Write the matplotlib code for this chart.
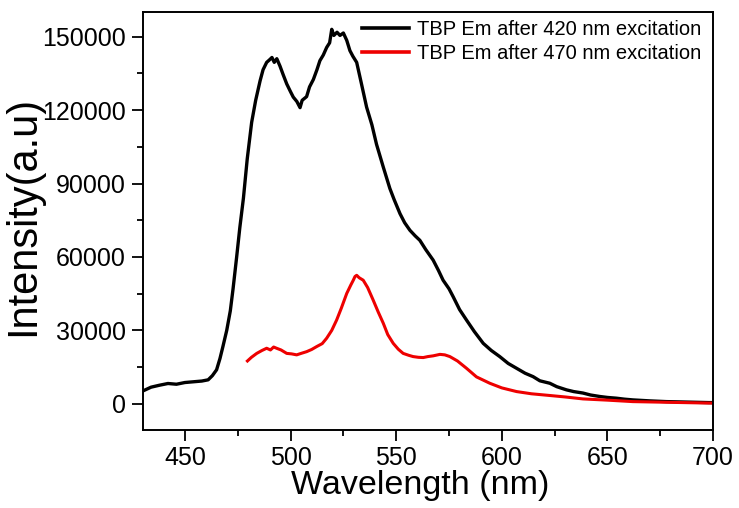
import matplotlib
matplotlib.use("Agg")
import matplotlib.pyplot as plt
from matplotlib.ticker import MultipleLocator

# Black: TBP Em after 420 nm excitation
wl_420 = [430, 434, 438, 442, 446, 450, 454, 458, 461, 463, 465, 466.6, 468, 469.8, 471.5, 472.8,
          474.5, 476, 477.7, 479.5, 481.6, 483.5, 485.6, 487, 488.7, 490, 491.2, 492.3, 493.5,
          495, 496.5, 498.2, 500, 501.3, 503, 504.5, 505.5, 507.6, 509, 510.8, 512.5, 513.9,
          515.5, 517.1, 518.5, 519.5, 520.5, 522, 523.4, 525, 526.6, 528.1, 529.5, 531.3,
          533.5, 536, 538.5, 540.7, 543.9, 547, 549, 551.8, 554, 556.5, 559, 561.2, 564,
          567.5, 570, 572.2, 575, 577, 580, 583.3, 587, 591.2, 595, 599, 603, 607, 611,
          614.8, 618, 622.7, 626, 630.6, 634, 638.4, 642, 646.3, 650, 654.2, 658, 662, 670,
          677.9, 688, 698, 700]
em_420 = [5200, 6800, 7600, 8300, 8000, 8700, 9000, 9300, 9800, 11500, 13900, 18500, 23400, 30000,
          38000, 47000, 60000, 72000, 84000, 100000, 115000, 124000, 132000, 136500, 139500,
          140500, 141500, 139500, 141000, 138000, 134500, 130700, 127500, 125300, 123500,
          121000, 124000, 125500, 129500, 132500, 136500, 140200, 142500, 145600, 147500,
          153000, 150500, 151800, 150500, 151500, 148500, 144300, 142000, 139500, 131000,
          121200, 114000, 106000, 96700, 88000, 83500, 77700, 74000, 70900, 68600, 66800,
          63000, 58700, 54500, 50500, 47000, 43700, 38500, 34200, 29500, 24700, 21800, 19300,
          16500, 14500, 12500, 11100, 9400, 8400, 7000, 5700, 5000, 4400, 3600, 3000, 2600,
          2300, 1900, 1600, 1200, 900, 700, 500, 500]

# Red: TBP Em after 470 nm excitation
wl_470 = [479.6, 481.5, 484, 486.5, 488.7, 490.5, 492, 493.4, 495.5, 498.2, 500.5, 502.9, 505,
          507.6, 510, 512.4, 515, 517.1, 519.5, 521.8, 524, 526.6, 528.5, 529.7, 530.5, 531.3,
          532.5, 534.4, 536.5, 539.1, 541.5, 543.9, 546, 548.6, 551, 553.3, 556, 558, 560.5,
          562.8, 565, 567.5, 570.7, 573, 575.4, 579, 583.3, 588, 594.3, 600, 607, 614, 622.7,
          630, 638.4, 650, 662, 680, 698, 700]
em_470 = [17500, 19000, 20600, 21800, 22700, 22000, 23200, 22700, 22000, 20600, 20400, 20000, 20600,
          21300, 22200, 23400, 24600, 26800, 30000, 34200, 39000, 45100, 48500, 50500, 52000,
          52500, 51500, 50500, 47500, 42400, 37500, 32900, 28300, 24700, 22300, 20600, 19800,
          19300, 19000, 18900, 19300, 19600, 20200, 20000, 19300, 17500, 14500, 11000, 8400,
          6500, 5000, 4100, 3400, 2800, 2000, 1500, 900, 600, 300, 300]

x_ticks = [450, 500, 550, 600, 650, 700]
y_ticks = [0, 30000, 60000, 90000, 120000, 150000]

plt.rcParams['font.family'] = ['Liberation Sans', 'DejaVu Sans']

fig = plt.figure(figsize=(7.39, 5.08), dpi=100)
ax = fig.add_axes([0.193, 0.1545, 0.772, 0.8215])

ax.plot(wl_420, em_420, color='black', lw=2.4, label='TBP Em after 420 nm excitation')
ax.plot(wl_470, em_470, color='#ee0000', lw=2.2, label='TBP Em after 470 nm excitation')

ax.set_xlim(430, 700)
ax.set_ylim(-10500, 160000)
ax.set_xticks(x_ticks)
ax.set_yticks(y_ticks)
ax.set_yticklabels([str(v) for v in y_ticks])
ax.xaxis.set_minor_locator(MultipleLocator(25))
ax.yaxis.set_minor_locator(MultipleLocator(15000))

ax.tick_params(which='major', direction='out', length=8, width=1.3, labelsize=18, pad=4,
               top=False, right=False)
ax.tick_params(which='minor', direction='out', length=4.5, width=1.3, top=False, right=False)
for s in ax.spines.values():
    s.set_linewidth(1.4)

ax.set_xlabel('Wavelength (nm)', fontsize=24.5)
ax.set_ylabel('Intensity(a.u)', fontsize=30)
ax.xaxis.set_label_coords(0.486, -0.098)
ax.yaxis.set_label_coords(-0.175, 0.511)

leg = ax.legend(loc='upper right', bbox_to_anchor=(0.993, 1.0), frameon=False, fontsize=14.5,
                handlelength=2.3, handletextpad=0.4, borderaxespad=0.0, labelspacing=0.25)
for l in leg.get_lines():
    l.set_linewidth(2.6)

fig.savefig('out.png', dpi=100)
